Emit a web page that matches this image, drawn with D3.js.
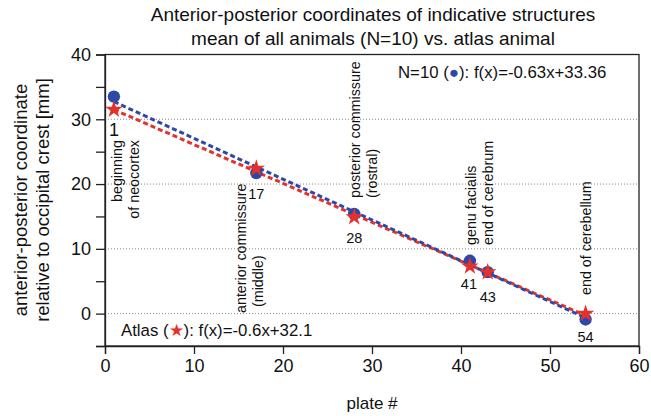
<!DOCTYPE html>
<meta charset="utf-8">
<style>
body { margin: 0; background: #fff; }
text { font-family: "Liberation Sans", Arial, sans-serif; fill: #111; }
</style>
<svg width="651" height="416"></svg>
<script src="https://d3js.org/d3.v7.min.js"></script>
<script>
var plates = [1, 17, 28, 41, 43, 54];
var meanY = [33.5, 21.7, 15.4, 8.15, 6.4, -0.9];
var atlasY = [31.5, 22.4, 14.9, 7.3, 6.4, 0.0];
var meanFit = [-0.63, 33.36];
var atlasFit = [-0.6, 32.1];
var xTicks = [0, 10, 20, 30, 40, 50, 60];
var yTicks = [0, 10, 20, 30, 40];
var yMinor = [-5, 0, 5, 10, 15, 20, 25, 30, 35, 40];
var gridY = [0, 10, 20, 30];
// structure labels, one array entry per text line
var structures = [
	{ plate: 1, lines: ["beginning", "of neocortex"] },
	{ plate: 17, lines: ["anterior commissure", "(middle)"] },
	{ plate: 28, lines: ["posterior commissure", "(rostral)"] },
	{ plate: 41, lines: ["genu facialis", "end of cerebrum"] },
	{ plate: 54, lines: ["end of cerebellum"] }
];

var blue = "#2d48a6";
var red = "#e4322b";

var svg = d3.select("svg");
var x = d3.scaleLinear().domain([0, 60]).range([105, 639]);
var y = d3.scaleLinear().domain([-5, 40]).range([346, 54.5]);

// grid
svg.selectAll(".grid").data(gridY).enter().append("line")
	.attr("x1", x(0)).attr("x2", x(60))
	.attr("y1", function(d) { return y(d); })
	.attr("y2", function(d) { return y(d); })
	.style("stroke", "#888")
	.style("stroke-width", 1)
	.style("stroke-dasharray", "1,2");

// frame
svg.append("rect")
	.attr("x", x(0)).attr("y", y(40))
	.attr("width", x(60) - x(0)).attr("height", y(-5) - y(40))
	.style("fill", "none").style("stroke", "#222").style("stroke-width", 1.3);

// axes
var xAxis = svg.append("g").attr("transform", "translate(0," + y(-5) + ")")
	.call(d3.axisBottom(x).tickValues(xTicks).tickSize(8).tickPadding(5));
var yAxis = svg.append("g").attr("transform", "translate(" + x(0) + ",0)")
	.call(d3.axisLeft(y).tickValues(yMinor).tickSize(9).tickPadding(5)
		.tickFormat(function(d) { return yTicks.indexOf(d) >= 0 ? d : ""; }));
[xAxis, yAxis].forEach(function(a) {
	a.select(".domain").style("stroke", "#222").style("stroke-width", 1.3);
	a.selectAll(".tick line").style("stroke", "#222").style("stroke-width", 1.3);
	a.selectAll(".tick text").style("font-size", "18px")
		.style("font-family", "'Liberation Sans', Arial, sans-serif").style("fill", "#111");
});

// regression lines
function fitLine(fit, color) {
	var ends = [plates[0], plates[plates.length - 1]];
	svg.append("path")
		.datum(ends)
		.attr("d", d3.line()
			.x(function(d) { return x(d); })
			.y(function(d) { return y(fit[0] * d + fit[1]); }))
		.style("fill", "none")
		.style("stroke", color)
		.style("stroke-width", 3)
		.style("stroke-dasharray", "5,3");
}
fitLine(atlasFit, red);
fitLine(meanFit, blue);

// points
svg.selectAll(".mean").data(plates).enter().append("circle")
	.attr("cx", function(d) { return x(d); })
	.attr("cy", function(d, i) { return y(meanY[i]); })
	.attr("r", 6.2)
	.style("fill", blue);
var star = d3.symbol().type(d3.symbolStar).size(95);
svg.selectAll(".atlas").data(plates).enter().append("path")
	.attr("d", star)
	.attr("transform", function(d, i) { return "translate(" + x(d) + "," + y(atlasY[i]) + ")"; })
	.style("fill", red);

// plate numbers
var numPos = [
	{ p: 1, dx: 0, dy: 26.5, size: 18 },
	{ p: 17, dx: 0, dy: 26, size: 14.5 },
	{ p: 28, dx: 0, dy: 26, size: 14.5 },
	{ p: 41, dx: -1, dy: 23, size: 14.5 },
	{ p: 43, dx: 0, dy: 30, size: 14.5 },
	{ p: 54, dx: 0, dy: 23, size: 14.5 }
];
svg.selectAll(".num").data(numPos).enter().append("text")
	.attr("x", function(d) { return x(d.p) + d.dx; })
	.attr("y", function(d) { return y(Math.min(meanY[plates.indexOf(d.p)], atlasY[plates.indexOf(d.p)])) + d.dy; })
	.style("text-anchor", "middle")
	.style("font-size", function(d) { return d.size + "px"; })
	.text(function(d) { return d.p; });

// structure labels (vertical)
var labelBase = { 1: [140, "end"], 17: [313, "start"], 28: [198, "start"], 41: [245, "start"], 54: [295, "start"] };
var labelX = { 1: 122, 17: 246, 28: 360, 41: 476, 54: 591 };
structures.forEach(function(s) {
	s.lines.forEach(function(line, i) {
		var lx = labelX[s.plate] + i * 16.5;
		var ly = labelBase[s.plate][0] - (s.plate === 17 && i === 1 ? 6 : 0);
		svg.append("text")
			.attr("transform", "translate(" + lx + "," + ly + ") rotate(-90)")
			.style("text-anchor", labelBase[s.plate][1])
			.style("font-size", "14.3px")
			.text(line);
	});
});

// legends
var leg1 = svg.append("text").attr("x", 398).attr("y", 78).style("font-size", "16.8px");
leg1.append("tspan").text("N=10 (");
leg1.append("tspan").style("fill", blue).text("\u25CF");
leg1.append("tspan").text("): f(x)=" + meanFit[0] + "x+" + meanFit[1]);
var leg2 = svg.append("text").attr("x", 121).attr("y", 336).style("font-size", "16.8px");
leg2.append("tspan").text("Atlas (");
leg2.append("tspan").style("fill", red).text("\u2605");
leg2.append("tspan").text("): f(x)=" + atlasFit[0] + "x+" + atlasFit[1]);

// titles
svg.append("text").attr("x", 373).attr("y", 21).style("text-anchor", "middle").style("font-size", "19px")
	.text("Anterior-posterior coordinates of indicative structures");
svg.append("text").attr("x", 373).attr("y", 45).style("text-anchor", "middle").style("font-size", "19px")
	.text("mean of all animals (N=10) vs. atlas animal");
svg.append("text").attr("x", 372).attr("y", 409).style("text-anchor", "middle").style("font-size", "17px")
	.text("plate #");
svg.append("text").attr("transform", "translate(27,200) rotate(-90)").style("text-anchor", "middle").style("font-size", "18.5px")
	.text("anterior-posterior coordinate");
svg.append("text").attr("transform", "translate(49,200) rotate(-90)").style("text-anchor", "middle").style("font-size", "18.5px")
	.text("relative to occipital crest [mm]");
</script>
